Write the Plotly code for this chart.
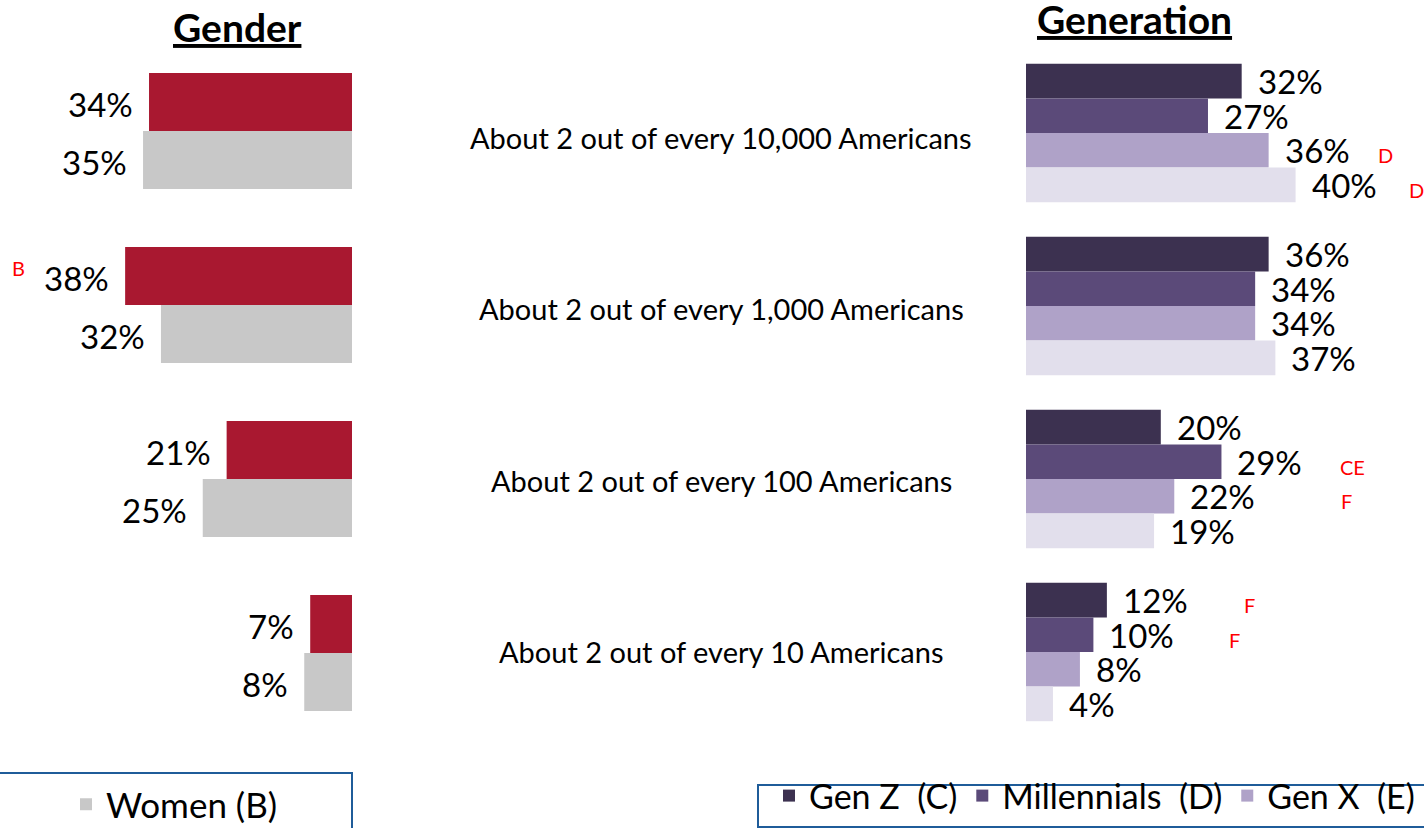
import plotly.graph_objects as go

W, H = 1424, 828
FONT = "Lato"

# ---- data ------------------------------------------------------------
categories = [
    "About 2 out of every 10,000 Americans",
    "About 2 out of every 1,000 Americans",
    "About 2 out of every 100 Americans",
    "About 2 out of every 10 Americans",
]

gender_names = ["Men (A)", "Women (B)"]
men = [34, 38, 21, 7]
women = [35, 32, 25, 8]

gen_names = ["Gen Z\u00a0 (C)", "Millennials\u00a0 (D)", "Gen X\u00a0 (E)", "Boomers\u00a0 (F)"]
gen_z = [32, 36, 20, 12]
millennials = [27, 34, 29, 10]
gen_x = [36, 34, 22, 8]
boomers = [40, 37, 19, 4]

# significance letters: (category index, series index, letter)
gender_sig = [(1, 0, "B")]
gen_sig = [(0, 2, "D"), (0, 3, "D"), (2, 1, "CE"), (2, 2, "F"), (3, 0, "F"), (3, 1, "F")]

# ---- styling ---------------------------------------------------------
GENDER_COLORS = ["#A91830", "#C8C8C8"]
GEN_COLORS = ["#3C3150", "#5B4A79", "#AFA2C8", "#E2DFEC"]
BORDER = "#1F5C99"
SIG_RED = "#FF0000"

# letter x positions (axis units) for the significance marks
GENDER_SIG_X = [55.9]
GEN_SIG_X = [53.4, 57.9, 48.5, 47.5, 33.1, 31.0]
LABEL_YSHIFT = [-6, -3, -1, 2]


def px_x(p):
    return p / W


def px_y(p):
    return 1 - p / H


fig = go.Figure()

# left panel: bars grow leftwards from a common edge
g_width = 1 / 3
for i, (name, vals) in enumerate(zip(gender_names, [men, women])):
    fig.add_trace(go.Bar(
        y=list(range(len(categories))), x=vals, orientation="h", name=name,
        marker=dict(color=GENDER_COLORS[i], line=dict(width=0)),
        width=g_width, offset=-g_width + i * g_width,
        xaxis="x", yaxis="y", legend="legend", hoverinfo="skip",
    ))
    for k, v in enumerate(vals):
        fig.add_annotation(
            x=v, y=k - g_width / 2 + i * g_width, xref="x", yref="y",
            text=f"{v}%", showarrow=False, xanchor="right", yanchor="middle",
            xshift=-14, yshift=-2, font=dict(size=33, color="black", family=FONT),
        )

# right panel: four generations per category
gen_series = [gen_z, millennials, gen_x, boomers]
r_width = 0.2
for i, (name, vals) in enumerate(zip(gen_names, gen_series)):
    fig.add_trace(go.Bar(
        y=list(range(len(categories))), x=vals, orientation="h", name=name,
        marker=dict(color=GEN_COLORS[i], line=dict(width=0)),
        width=r_width, offset=-0.4 + i * r_width,
        xaxis="x2", yaxis="y2", legend="legend2", hoverinfo="skip",
    ))
    for k, v in enumerate(vals):
        fig.add_annotation(
            x=v, y=k - 0.4 + r_width / 2 + i * r_width, xref="x2", yref="y2",
            text=f"{v}%", showarrow=False, xanchor="left", yanchor="middle",
            xshift=14, font=dict(size=33, color="black", family=FONT),
        )

# significance letters
for (k, s, letter), xpos in zip(gender_sig, GENDER_SIG_X):
    fig.add_annotation(
        x=xpos, y=k - g_width / 2 + s * g_width, xref="x", yref="y",
        text=letter, showarrow=False, yshift=8,
        font=dict(size=20, color=SIG_RED, family=FONT),
    )
for (k, s, letter), xpos in zip(gen_sig, GEN_SIG_X):
    fig.add_annotation(
        x=xpos, y=k - 0.4 + r_width / 2 + s * r_width, xref="x2", yref="y2",
        text=letter, showarrow=False, yshift=-5,
        font=dict(size=20, color=SIG_RED, family=FONT),
    )

# category labels in the middle
for k, cat in enumerate(categories):
    fig.add_annotation(
        x=px_x(721.5), y=k, xref="paper", yref="y",
        text=cat, showarrow=False, xanchor="center", yanchor="middle",
        yshift=LABEL_YSHIFT[k], font=dict(size=29, color="black", family=FONT),
    )

# panel titles
for text, px, py in [("Gender", 237, 27), ("Generation", 1134, 19)]:
    fig.add_annotation(
        x=px_x(px), y=px_y(py), xref="paper", yref="paper",
        text=f"<b><span style='text-decoration:underline'>{text}</span></b>",
        showarrow=False, xanchor="center", yanchor="middle",
        font=dict(size=39, color="black", family=FONT),
    )

# legend frames
fig.add_shape(type="rect", xref="paper", yref="paper",
              x0=px_x(-20), x1=px_x(352), y0=px_y(860), y1=px_y(773),
              line=dict(color=BORDER, width=2), fillcolor="rgba(0,0,0,0)")
fig.add_shape(type="rect", xref="paper", yref="paper",
              x0=px_x(758), x1=px_x(1460), y0=px_y(827), y1=px_y(785),
              line=dict(color=BORDER, width=2), fillcolor="rgba(0,0,0,0)")

fig.update_layout(
    width=W, height=H,
    margin=dict(l=0, r=0, t=0, b=0, autoexpand=False),
    paper_bgcolor="white", plot_bgcolor="white",
    barmode="overlay",
    xaxis=dict(domain=[0, px_x(352)], range=[352 / 5.97, 0], visible=False),
    yaxis=dict(range=[(H - 131) / 174, -131 / 174], visible=False, anchor="x"),
    xaxis2=dict(domain=[px_x(1026), 1], range=[0, (W - 1026) / 6.74],
                visible=False, anchor="y2"),
    yaxis2=dict(range=[(H - 133) / 173, -133 / 173], visible=False, anchor="x2"),
    legend=dict(
        orientation="h", x=px_x(351), xanchor="right", y=px_y(775), yanchor="top",
        borderwidth=0, bgcolor="rgba(0,0,0,0)",
        font=dict(size=35, color="black", family=FONT), entrywidth=240,
        traceorder="normal",
    ),
    legend2=dict(
        orientation="h", x=px_x(769), xanchor="left", y=px_y(767), yanchor="top",
        borderwidth=0, bgcolor="rgba(0,0,0,0)",
        font=dict(size=34, color="black", family=FONT), traceorder="normal",
        itemwidth=30,
    ),
    showlegend=True,
)

# drop the default page margin so the figure sits at the window's corner
fig.write_html("out.html", config={"displayModeBar": False},
               post_script="document.body.style.margin = '0';")
